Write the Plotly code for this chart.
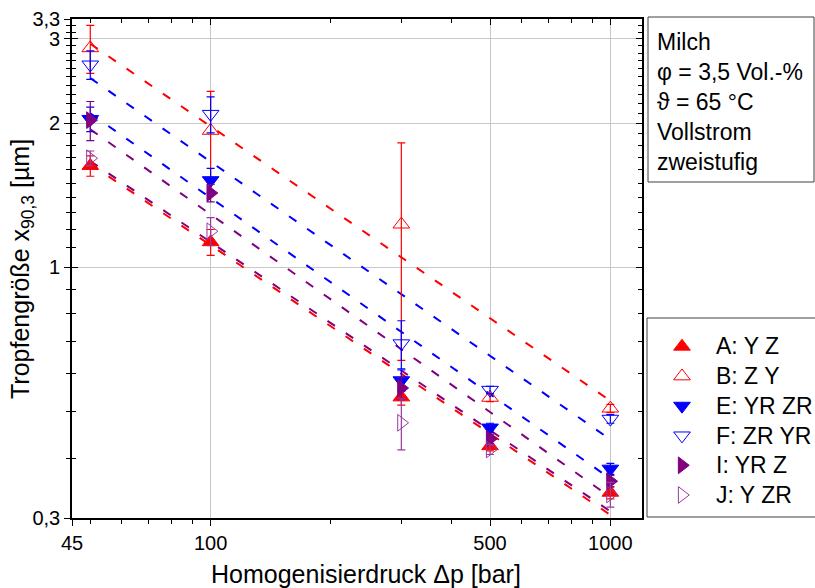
import math
import plotly.graph_objects as go

# Homogenizing pressure (bar)
pressure = [50, 100, 300, 500, 1000]

# Droplet size x90,3 (µm) per homogenizer configuration
x90_A = [1.63, 1.13, 0.536, 0.424, 0.339]
x90_B = [2.87, 1.93, 1.23, 0.535, 0.508]
x90_E = [2.04, 1.52, 0.581, 0.463, 0.380]
x90_F = [2.65, 2.09, 0.694, 0.555, 0.483]
x90_I = [2.03, 1.43, 0.560, 0.439, 0.358]
x90_J = [1.69, 1.19, 0.474, 0.417, 0.336]

# Standard deviations (µm)
sd_A = [0.08, 0.07, 0.02, 0.01, 0.01]
sd_B = [0.33, 0.40, 0.59, 0.01, 0.01]
sd_E = [0.12, 0.09, 0.03, 0.01, 0.01]
sd_F = [0.18, 0.18, 0.08, 0.01, 0.01]
sd_I = [0.19, 0.06, 0.03, 0.01, 0.01]
sd_J = [0.06, 0.08, 0.058, 0.01, 0.02]

# Power-law fits x90,3 = k * dp^n
fit_k = [14.86, 27.53, 20.77, 23.98, 19.53, 15.03]
fit_n = [-0.5628, -0.5727, -0.5861, -0.5796, -0.590, -0.562]
fit_range = [50, 1000]

labels = ["A: Y Z", "B: Z Y", "E: YR ZR", "F: ZR YR", "I: YR Z", "J: Y ZR"]
values = [x90_A, x90_B, x90_E, x90_F, x90_I, x90_J]
errors = [sd_A, sd_B, sd_E, sd_F, sd_I, sd_J]

# Tick labels
x_major = [45, 100, 500, 1000]
x_major_text = ["45", "100", "500", "1000"]
x_minor = [50, 60, 70, 80, 90, 200, 300, 400, 600, 700, 800, 900]
y_major = [0.3, 1, 2, 3, 3.3]
y_major_text = ["0,3", "1", "2", "3", "3,3"]
y_minor = [0.4, 0.5, 0.6, 0.7, 0.8, 0.9, 1.1, 1.2, 1.3, 1.4, 1.5, 1.6, 1.7, 1.8, 1.9,
           2.1, 2.2, 2.3, 2.4, 2.5, 2.6, 2.7, 2.8, 2.9, 3.1, 3.2]

info_lines = ["Milch", "φ = 3,5 Vol.-%", "ϑ = 65 °C", "Vollstrom", "zweistufig"]

# Styling
RED, BLUE, PURPLE, LPURPLE = "#FF0000", "#0000FF", "#800080", "#9A3AA0"
marker_colors = [RED, RED, BLUE, BLUE, PURPLE, LPURPLE]
line_colors = [RED, RED, BLUE, BLUE, PURPLE, PURPLE]
symbols = ["triangle-up", "triangle-up-open", "triangle-down", "triangle-down-open",
           "triangle-right", "triangle-right-open"]
FONT = "Arial, 'Liberation Sans', sans-serif"
BOX = "#404040"

# Page geometry (px)
W, H = 815, 588
ML, MT, MB = 72, 19, 70
PLOT_R = 642
paper_w = W - ML
paper_h = H - MT - MB
main_dom = (PLOT_R - ML) / paper_w


def px_x(px):
    return (px - ML) / paper_w


def px_y(py):
    return (H - MB - py) / paper_h


fig = go.Figure()

# Fit lines
for k, n, col in zip(fit_k, fit_n, line_colors):
    fx = list(fit_range)
    fy = [k * v ** n for v in fx]
    fig.add_trace(go.Scatter(
        x=fx, y=fy, mode="lines", showlegend=False, hoverinfo="skip",
        line=dict(color=col, width=2, dash="9px,13px"),
    ))

# Measured points with error bars
for i, (lab, yv, ev) in enumerate(zip(labels, values, errors)):
    fig.add_trace(go.Scatter(
        x=pressure, y=yv, mode="markers", name=lab, showlegend=False,
        marker=dict(symbol=symbols[i], size=14.5, color=marker_colors[i],
                    line=dict(color=marker_colors[i], width=1)),
        error_y=dict(type="data", array=ev, visible=True, color=marker_colors[i],
                     thickness=1.2, width=4),
    ))

# Empty traces so the overlay axes (inner ticks) are created
fig.add_trace(go.Scatter(x=[], y=[], xaxis="x2", yaxis="y2", showlegend=False, hoverinfo="skip"))
fig.add_trace(go.Scatter(x=[], y=[], xaxis="x", yaxis="y3", showlegend=False, hoverinfo="skip"))

# Legend panel (pixel-unit helper axes to the right of the plot)
LEG_L, LEG_T, LEG_B = 647, 318, 517
LEG_SYM_X, LEG_TXT_X, LEG_Y0, LEG_DY = 682, 714, 346.5, 29.7
leg_y = [LEG_Y0 + LEG_DY * i for i in range(len(labels))]
fig.add_trace(go.Scatter(
    x=[LEG_SYM_X] * len(labels), y=leg_y, xaxis="x4", yaxis="y4", mode="markers",
    showlegend=False, hoverinfo="skip", cliponaxis=False,
    marker=dict(symbol=symbols, size=14.5, color=marker_colors,
                line=dict(color=marker_colors, width=1)),
))
fig.add_shape(type="rect", xref="paper", yref="paper",
              x0=px_x(LEG_L), x1=px_x(W + 20), y0=px_y(LEG_B), y1=px_y(LEG_T),
              line=dict(color=BOX, width=1), fillcolor="rgba(0,0,0,0)")
for lab, yy in zip(labels, leg_y):
    fig.add_annotation(xref="paper", yref="paper", x=px_x(LEG_TXT_X), y=px_y(yy),
                       xanchor="left", yanchor="middle", showarrow=False, text=lab,
                       font=dict(size=23, family=FONT, color="black"))

# Info box
fig.add_shape(type="rect", xref="paper", yref="paper",
              x0=px_x(648), x1=px_x(814), y0=px_y(182), y1=px_y(17),
              line=dict(color=BOX, width=1), fillcolor="white", layer="below")
for i, line in enumerate(info_lines):
    fig.add_annotation(xref="paper", yref="paper", x=px_x(655), y=px_y(42 + 30 * i),
                       xanchor="left", yanchor="middle", showarrow=False, text=line,
                       font=dict(size=23, family=FONT, color="black"))

# Axis titles
fig.add_annotation(xref="paper", yref="paper", x=px_x(366), y=px_y(574),
                   xanchor="center", yanchor="middle", showarrow=False,
                   text="Homogenisierdruck Δp [bar]",
                   font=dict(size=25, family=FONT, color="black"))
fig.add_annotation(xref="paper", yref="paper", x=px_x(22), y=px_y(269),
                   xanchor="center", yanchor="middle", showarrow=False, textangle=-90,
                   text="Tropfengröße x<sub>90,3</sub> [µm]",
                   font=dict(size=25, family=FONT, color="black"))

xr = [math.log10(45), math.log10(1200)]
yr = [math.log10(0.3), math.log10(3.3)]

common_x = dict(type="log", range=xr, tickmode="array", tickvals=x_major,
                domain=[0, main_dom])
common_y = dict(type="log", range=yr, tickmode="array", tickvals=y_major)

fig.update_layout(
    width=W, height=H,
    margin=dict(l=ML, r=0, t=MT, b=MB, autoexpand=False),
    paper_bgcolor="white", plot_bgcolor="white",
    font=dict(family=FONT, size=20, color="black"),
    showlegend=False,
    xaxis=dict(
        **common_x, ticktext=x_major_text, ticks="outside", ticklen=6, tickwidth=1.2,
        tickcolor="black", showline=True, linecolor="black", linewidth=1.6, mirror=True,
        showgrid=True, gridcolor="#C8C8C8", gridwidth=1, zeroline=False,
        minor=dict(tickmode="array", tickvals=x_minor, ticks="outside", ticklen=4,
                   tickwidth=1.2, tickcolor="black", showgrid=False),
        tickfont=dict(size=20),
    ),
    xaxis2=dict(
        **common_x, overlaying="x", side="top", anchor="y", ticks="inside", ticklen=6,
        tickwidth=1.2, tickcolor="black", showticklabels=False, showgrid=False,
        showline=False, zeroline=False,
        minor=dict(tickmode="array", tickvals=x_minor, ticks="inside", ticklen=4,
                   tickwidth=1.2, tickcolor="black", showgrid=False),
    ),
    yaxis=dict(
        **common_y, ticktext=y_major_text, ticks="outside", ticklen=6, tickwidth=1.2,
        tickcolor="black", showline=True, linecolor="black", linewidth=1.6, mirror=True,
        showgrid=True, gridcolor="#C8C8C8", gridwidth=1, zeroline=False,
        minor=dict(tickmode="array", tickvals=y_minor, ticks="outside", ticklen=4,
                   tickwidth=1.2, tickcolor="black", showgrid=False),
        tickfont=dict(size=20),
    ),
    yaxis2=dict(
        **common_y, overlaying="y", side="right", anchor="x2", ticks="inside", ticklen=6,
        tickwidth=1.2, tickcolor="black", showticklabels=False, showgrid=False,
        showline=False, zeroline=False,
        minor=dict(tickmode="array", tickvals=y_minor, ticks="inside", ticklen=4,
                   tickwidth=1.2, tickcolor="black", showgrid=False),
    ),
    yaxis3=dict(
        **common_y, overlaying="y", side="left", anchor="x", ticks="inside", ticklen=6,
        tickwidth=1.2, tickcolor="black", showticklabels=False, showgrid=False,
        showline=False, zeroline=False,
        minor=dict(tickmode="array", tickvals=y_minor, ticks="inside", ticklen=4,
                   tickwidth=1.2, tickcolor="black", showgrid=False),
    ),
    xaxis4=dict(domain=[main_dom, 1], range=[PLOT_R, W], visible=False, anchor="y4"),
    yaxis4=dict(domain=[0, 1], range=[H - MB, MT], visible=False, anchor="x4"),
)

fig.write_html("out.html")
